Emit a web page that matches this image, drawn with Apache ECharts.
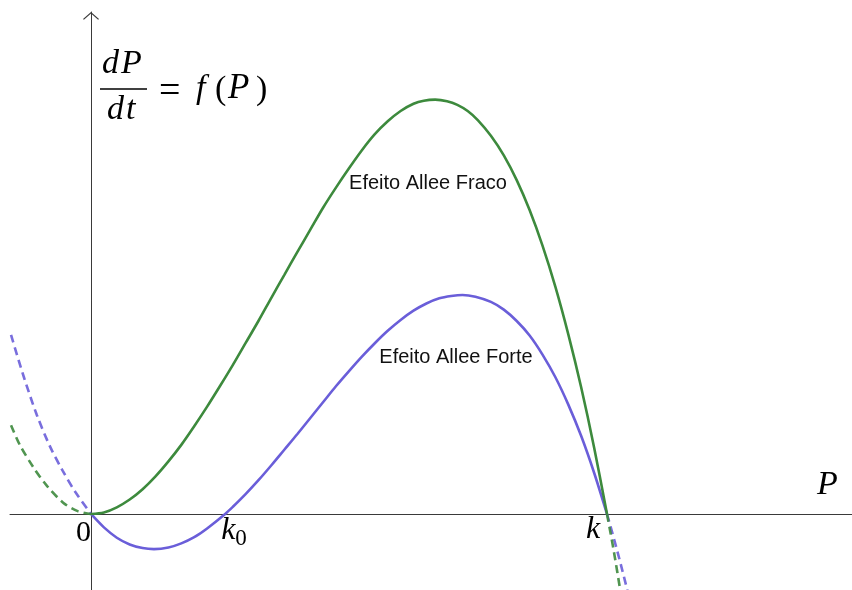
<!DOCTYPE html>
<html>
<head>
<meta charset="utf-8">
<script src="https://cdn.jsdelivr.net/npm/echarts@6/dist/echarts.min.js"></script>
<style>
  html, body { margin: 0; padding: 0; background: #ffffff; }
  #chart { width: 852px; height: 590px; }
</style>
</head>
<body>
<div id="chart"></div>
<script>
// Equilibria on the P axis
const K0 = 0.26;   // Allee threshold (strong effect)
const K = 1;       // carrying capacity

// Weak Allee effect: f(P) = dP/dt, pairs [P, f]
const weakLeft = [
  [-0.155, 0.172], [-0.138, 0.134], [-0.112, 0.091], [-0.085, 0.054],
  [-0.054, 0.022], [-0.027, 0.006], [0, 0]
];
const weakMain = [
  [0, 0], [0.025, 0.003], [0.05, 0.013], [0.075, 0.028], [0.1, 0.048],
  [0.125, 0.073], [0.15, 0.102], [0.175, 0.134], [0.2, 0.170], [0.225, 0.208],
  [0.25, 0.248], [0.275, 0.289], [0.3, 0.332], [0.325, 0.375], [0.35, 0.420],
  [0.375, 0.464], [0.4, 0.508], [0.425, 0.551], [0.45, 0.594], [0.475, 0.633],
  [0.5, 0.670], [0.525, 0.705], [0.55, 0.736], [0.575, 0.761], [0.6, 0.781],
  [0.625, 0.795], [0.645, 0.801], [0.667, 0.803], [0.69, 0.800], [0.71, 0.793],
  [0.73, 0.781], [0.75, 0.763], [0.775, 0.733], [0.8, 0.695], [0.825, 0.647],
  [0.85, 0.589], [0.875, 0.520], [0.9, 0.440], [0.925, 0.348], [0.95, 0.245],
  [0.975, 0.129], [1, 0]
];
const weakRight = [[1, 0], [1.013, -0.071], [1.026, -0.150], [1.032, -0.190]];

// Strong Allee effect
const strongLeft = [
  [-0.155, 0.347], [-0.13, 0.265], [-0.105, 0.192], [-0.08, 0.132],
  [-0.055, 0.084], [-0.03, 0.042], [0, 0]
];
const strongMain = [
  [0, 0], [0.025, -0.026], [0.05, -0.046], [0.075, -0.059], [0.1, -0.066],
  [0.122, -0.068], [0.15, -0.065], [0.175, -0.057], [0.2, -0.045], [0.225, -0.028],
  [K0, 0], [0.275, 0.014], [0.3, 0.039], [0.325, 0.066], [0.35, 0.095],
  [0.375, 0.125], [0.4, 0.155], [0.425, 0.186], [0.45, 0.217], [0.475, 0.248],
  [0.5, 0.277], [0.525, 0.305], [0.55, 0.331], [0.575, 0.355], [0.6, 0.376],
  [0.625, 0.394], [0.65, 0.408], [0.675, 0.418], [0.698, 0.4225], [0.72, 0.4245],
  [0.745, 0.421], [0.775, 0.411], [0.8, 0.396], [0.825, 0.374], [0.85, 0.346],
  [0.875, 0.309], [0.9, 0.265], [0.925, 0.212], [0.95, 0.151], [0.975, 0.080],
  [1, 0]
];
const strongRight = [[1, 0], [1.02, -0.072], [1.04, -0.150], [1.05, -0.190]];

const GREEN = '#3d8a3d';
const PURPLE = '#6a5ed9';
const AXIS = '#3a3a3a';
const SERIF = '"Liberation Serif", "DejaVu Serif", serif';
const SANS = '"Liberation Sans", Arial, sans-serif';

function curve(name, data, color, dashed) {
  return {
    name: name,
    type: 'line',
    data: data,
    smooth: 0.3,
    showSymbol: false,
    silent: true,
    clip: true,
    lineStyle: {
      color: color,
      width: 2.6,
      type: dashed ? [8, 5] : 'solid',
      opacity: dashed ? 0.9 : 1,
      cap: 'butt'
    }
  };
}

const chart = echarts.init(document.getElementById('chart'));

chart.setOption({
  animation: false,
  backgroundColor: '#ffffff',
  grid: { left: 10, right: 0, top: 12, bottom: 0, containLabel: false },
  xAxis: {
    type: 'value',
    min: -0.157,
    max: 1.4748,
    axisLine: { show: true, onZero: true, lineStyle: { color: AXIS, width: 1 } },
    axisTick: { show: false },
    axisLabel: { show: false },
    splitLine: { show: false }
  },
  yAxis: {
    type: 'value',
    min: -0.1473,
    max: 0.9729,
    axisLine: {
      show: true,
      onZero: true,
      lineStyle: { color: AXIS, width: 1 },
      symbol: ['none', 'path://M0,7 L8,0 L16,7 L15.1,7.8 L8,1.6 L0.9,7.8 Z'],
      symbolSize: [16, 7.8],
      symbolOffset: [0, -3.9]
    },
    axisTick: { show: false },
    axisLabel: { show: false },
    splitLine: { show: false }
  },
  series: [
    curve('Forte-esq', strongLeft, PURPLE, true),
    curve('Forte-dir', strongRight, PURPLE, true),
    curve('Forte', strongMain, PURPLE, false),
    curve('Fraco-esq', weakLeft, GREEN, true),
    curve('Fraco-dir', weakRight, GREEN, true),
    curve('Fraco', weakMain, GREEN, false)
  ]
});

// Glyph placed by its left edge and baseline
function glyph(x, baseline, text, size, italic, align) {
  return {
    type: 'text',
    x: x,
    y: baseline - 0.34 * size,
    silent: true,
    style: {
      text: text,
      fill: '#000',
      font: (italic ? 'italic ' : '') + size + 'px ' + SERIF,
      align: align || 'left',
      verticalAlign: 'middle'
    }
  };
}

// Labels tied to the axis scale
const o = chart.convertToPixel({ gridIndex: 0 }, [0, 0]);
const pk0 = chart.convertToPixel({ gridIndex: 0 }, [K0, 0]);
const pk = chart.convertToPixel({ gridIndex: 0 }, [K, 0]);

chart.setOption({
  graphic: [
    // dP/dt = f(P)
    glyph(102, 76, 'd', 34, true),
    glyph(121, 76, 'P', 34, true),
    { type: 'line', silent: true, shape: { x1: 100, y1: 89, x2: 147, y2: 89 },
      style: { stroke: '#000', lineWidth: 1.3 } },
    glyph(107, 122, 'd', 34, true),
    glyph(126, 122, 't', 34, true),
    glyph(159, 105, '=', 38, false),
    glyph(196, 101, 'f', 34, true),
    glyph(215, 102, '(', 34, false),
    glyph(228, 101, 'P', 35, true),
    glyph(256, 102, ')', 34, false),
    // axis marks
    glyph(o[0] - 7.5, o[1] + 29, '0', 30, false, 'center'),
    glyph(pk0[0] - 4, pk0[1] + 27, 'k', 32, true),
    glyph(pk0[0] + 10, pk0[1] + 33, '0', 23, false),
    glyph(pk[0] - 21, pk[1] + 26, 'k', 32, true),
    glyph(817, 497, 'P', 34, true),
    // curve names
    { type: 'text', x: 428, y: 183, silent: true,
      style: { text: 'Efeito Allee Fraco', fill: '#111', font: '20px ' + SANS,
               align: 'center', verticalAlign: 'middle' } },
    { type: 'text', x: 456, y: 357, silent: true,
      style: { text: 'Efeito Allee Forte', fill: '#111', font: '20px ' + SANS,
               align: 'center', verticalAlign: 'middle' } }
  ]
});
</script>
</body>
</html>
